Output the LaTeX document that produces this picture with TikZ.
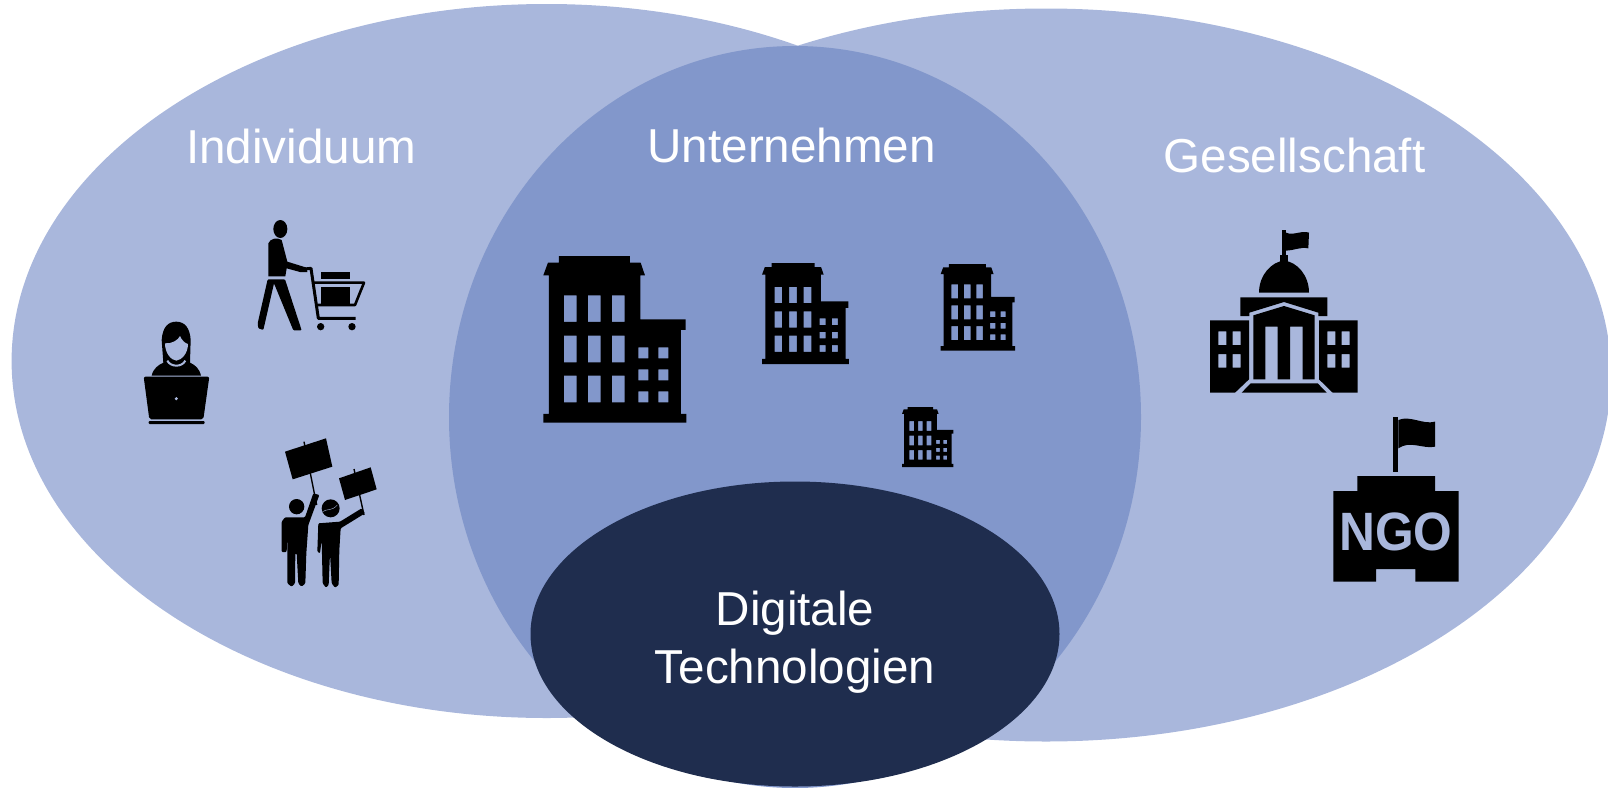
\documentclass[tikz,border=0pt]{standalone}
\usepackage{fontspec}
\setmainfont{Liberation Sans}
\usetikzlibrary{shapes.geometric}
\definecolor{lightblue}{HTML}{A9B7DC}
\definecolor{midblue}{HTML}{8297CB}
\definecolor{darkblue}{HTML}{1F2D4E}
\tikzset{
  venn/.style={ellipse,inner sep=0pt,outer sep=0pt,draw=none},
  biglabel/.style={text=white,inner sep=0pt,align=center,font=\fontsize{47.6}{57.5}\selectfont},
  officeblock/.pic={
    \fill[black,even odd rule]
      (47,0)--(260,0)--(260,20)--(292,20)--(305,58)--(291,58)--(291,190)--(427,190)--(427,222)--(413,222)
      --(413,474)--(429,474)--(429,500)--(0,500)--(0,474)--(17,474)--(17,58)--(0,58)--(14,20)--(47,20)--cycle
      \foreach \wx in {62,134,206}{\foreach \wy in {118,239,359}{
        (\wx,\wy) rectangle +(38,80)}}
      \foreach \wx in {285,345}{\foreach \wy in {274,340,406}{
        (\wx,\wy) rectangle +(30,33)}};
  }
}
\begin{document}
\begin{tikzpicture}[x=1pt,y=-1pt]
\useasboundingbox (0,0) rectangle (1608,787);
\node[venn,fill=lightblue,minimum width=1070pt,minimum height=714pt] (indiv) at (546.6,361) {};
\node[venn,fill=lightblue,minimum width=1130pt,minimum height=733pt] (gesell) at (1046,375) {};
\node[venn,fill=midblue,minimum width=692pt,minimum height=742pt] (untern) at (795,417) {};
\node[venn,fill=darkblue,minimum width=529pt,minimum height=305pt] (digi) at (795,634) {};

\node[biglabel,anchor=base] (lindiv) at (301.2,163) {Individuum};
\node[biglabel,anchor=base] (luntern) at (791.7,162) {Unternehmen};
\node[biglabel,anchor=base] (lgesell) at (1294.5,172) {Gesellschaft};
\node[biglabel] (ldigi) at (795,642) {Digitale\\Technologien};

% office buildings
\pic[shift={(543.3,256)},scale=0.3333] {officeblock};
\pic[shift={(762,263)},scale=0.2023] {officeblock};
\pic[shift={(940.7,264)},scale=0.1733] {officeblock};
\pic[shift={(902,407)},scale=0.12] {officeblock};

% people
\begin{scope}[shift={(100,200)},scale=1/3]
  % woman at laptop
  \fill[black] (155,527) .. controls (160,505) and (175,495) .. (190,488) -- (185,420)
    .. controls (188,380) and (205,365) .. (229,365) .. controls (255,365) and (270,385) .. (272,420)
    -- (270,488) .. controls (285,495) and (298,505) .. (303,527) -- cycle;
  \fill[lightblue] (195,430) .. controls (215,432) and (235,420) .. (240,408)
    .. controls (245,420) and (255,430) .. (264,432) .. controls (264,460) and (245,480) .. (229,482)
    .. controls (213,480) and (195,460) .. (195,430) -- cycle;
  \draw[lightblue,line width=2pt] (202,482) .. controls (212,502) and (246,502) .. (256,482);
  \fill[black,rounded corners=2pt] (131,530)--(328,530)--(310,658)--(148,658)--cycle;
  \fill[black,rounded corners=1pt] (146,663) rectangle (314,672);
  \fill[lightblue] (229,596) circle[radius=5];
  % shopper
  \fill[black] (541,87) ellipse[x radius=21,y radius=27];
  \fill[black] (505,130) .. controls (510,117) and (530,110) .. (545,120) -- (562,185) -- (620,203)
    -- (622,216) -- (600,216) -- (560,205) -- (556,229) -- (505,229) -- cycle;
  \fill[black,rounded corners=1pt] (503,238)--(555,238)--(605,391)--(580,391)--(522,250)--(490,390)--(475,385)--(473,370)--cycle;
  \draw[black,line width=3pt,line join=round] (615,207)--(633,205)--(655,355)--(767,355);
  \draw[black,line width=2.6pt,line join=round] (640,248)--(792,248)--(765,315)--(650,315);
  \fill[black] (662,262) rectangle (750,312);
  \fill[black] (662,215) rectangle (750,236);
  \fill[black] (662,380) circle[radius=11];
  \fill[black] (756,380) circle[radius=11];
  % protesters
  \fill[black] (555,755)--(678,715)--(697,800)--(578,838)--cycle;
  \fill[black] (717,835)--(812,802)--(830,868)--(735,900)--cycle;
  \draw[black,line width=1.4pt] (612,725)--(650,915);
  \draw[black,line width=1.4pt] (762,807)--(792,945);
  \fill[black] (590,920) circle[radius=23];
  \fill[black,rounded corners=1pt] (545,965)--(555,952)--(615,952)--(640,880)--(658,885)--(625,975)--(619,1060)
    --(616,1150)--(605,1160)--(595,1150)--(590,1060)--(586,1060)--(585,1150)--(575,1160)--(562,1150)
    --(562,1000)--(560,1056)--(545,1056)--cycle;
  \fill[black] (692,925) circle[radius=27];
  \draw[lightblue,line width=0.4pt] (668,935) .. controls (680,925) and (695,935) .. (712,915);
  \fill[black,rounded corners=1pt] (655,970)--(720,965)--(785,925)--(795,940)--(722,985)--(718,1050)
    --(716,1155)--(705,1163)--(695,1150)--(690,1060)--(686,1155)--(678,1163)--(668,1150)
    --(665,1020)--(660,1060)--(652,1055)--cycle;
\end{scope}

% government and NGO
\begin{scope}[shift={(1180,210)},scale=1/3]
  \fill[black] (305,60) rectangle (318,135);
  \fill[black] (318,68) .. controls (340,78) and (365,60) .. (387,68) -- (385,115)
    .. controls (360,110) and (340,122) .. (318,122) -- cycle;
  \fill[black] (300,135) rectangle (325,155);
  \fill[black] (237,248) .. controls (237,195) and (275,155) .. (312,152)
    .. controls (350,155) and (387,195) .. (387,248) -- cycle;
  \fill[black] (181,262)--(442,262)--(442,318)--(415,318)--(415,308)--(312,276)--(208,308)--(208,318)--(181,318)--cycle;
  \fill[black] (220,316)--(312,288)--(404,316)--(404,508)--(368,508)--(368,350)--(330,350)--(330,508)
    --(293,508)--(293,350)--(256,350)--(256,508)--(220,508)--cycle;
  \fill[black,even odd rule] (90,331)--(207,331)--(207,508)--(165,548)--(90,548)--cycle
    (115,364) rectangle (139,405) (158,364) rectangle (182,405)
    (115,432) rectangle (139,473) (158,432) rectangle (182,473);
  \fill[black,even odd rule] (417,331)--(533,331)--(533,548)--(458,548)--(417,508)--cycle
    (442,364) rectangle (466,405) (485,364) rectangle (509,405)
    (442,432) rectangle (466,473) (485,432) rectangle (509,473);
  \fill[black] (185,548)--(212,520)--(413,520)--(440,548)--cycle;
  % NGO
  \fill[black] (640,620) rectangle (655,785);
  \fill[black] (655,630) .. controls (690,615) and (730,645) .. (765,635) -- (765,710)
    .. controls (730,718) and (690,690) .. (655,715) -- cycle;
  \fill[black] (532,798)--(765,798)--(765,843)--(836,843)--(836,1115)--(706,1115)--(706,1077)
    --(588,1077)--(588,1115)--(460,1115)--(460,843)--(532,843)--cycle;
\end{scope}
\node[text=lightblue,inner sep=0pt,font=\fontsize{54}{54}\bfseries\selectfont,xscale=0.92] (ngo) at (1395.7,531.5) {NGO};
\end{tikzpicture}
\end{document}
